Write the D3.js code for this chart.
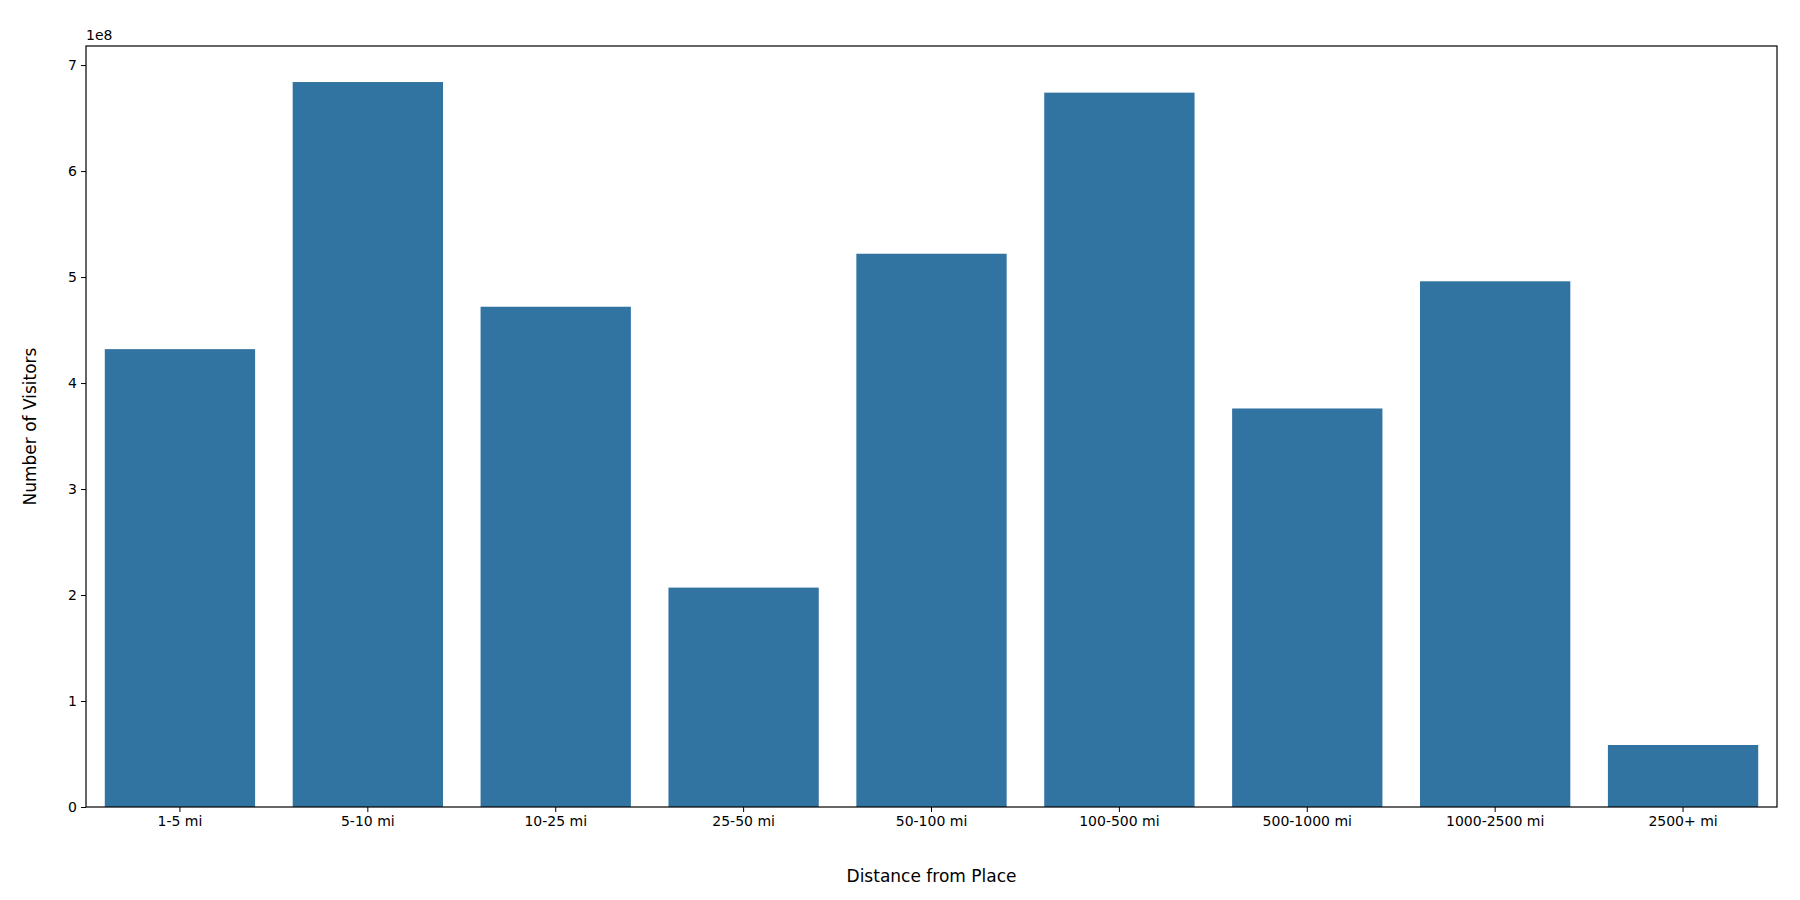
<!DOCTYPE html>
<html lang="en">
<head>
<meta charset="utf-8">
<script src="https://cdn.jsdelivr.net/npm/d3@7"></script>
<style>
  body { margin: 0; background: #fff; font-family: "DejaVu Sans", sans-serif; }
</style>
</head>
<body>
<svg id="chart" width="1800" height="900"></svg>
<script>
// distance buckets and visitor counts
var categories = ["1-5 mi", "5-10 mi", "10-25 mi", "25-50 mi", "50-100 mi",
                  "100-500 mi", "500-1000 mi", "1000-2500 mi", "2500+ mi"];
var visitors = [4.32e8, 6.84e8, 4.72e8, 2.07e8, 5.22e8, 6.74e8, 3.76e8, 4.96e8, 0.585e8];
var yTicks = [0, 1e8, 2e8, 3e8, 4e8, 5e8, 6e8, 7e8];

var m = {left: 86, right: 23, top: 46, bottom: 93};
var W = 1800, H = 900;
var svg = d3.select("#chart");
var g = svg.append("g").attr("transform", "translate(" + m.left + "," + m.top + ")");
var w = W - m.left - m.right, h = H - m.top - m.bottom;

var x = d3.scaleBand().domain(categories).range([0, w]).paddingInner(0.2).paddingOuter(0.1);
var y = d3.scaleLinear().domain([0, 7.18e8]).range([h, 0]);

g.selectAll("rect.bar").data(visitors).enter().append("rect")
  .attr("class", "bar")
  .attr("x", function(d, i) { return x(categories[i]); })
  .attr("width", x.bandwidth())
  .attr("y", function(d) { return y(d); })
  .attr("height", function(d) { return h - y(d); })
  .attr("fill", "#3274a1");

var xa = g.append("g").attr("transform", "translate(0," + h + ")")
  .call(d3.axisBottom(x).tickSize(5).tickPadding(4));
var ya = g.append("g")
  .call(d3.axisLeft(y).tickValues(yTicks).tickFormat(function(d) { return d / 1e8; }).tickSize(5).tickPadding(4));
[xa, ya].forEach(function(a) {
  a.selectAll("text").attr("font-size", 14).attr("fill", "#000").attr("font-family", "DejaVu Sans, sans-serif");
  a.select(".domain").remove();
  a.selectAll("line").attr("stroke", "#000");
});

g.append("rect").attr("width", w).attr("height", h)
  .attr("fill", "none").attr("stroke", "#000").attr("stroke-width", 1.2);

g.append("text").attr("x", 0).attr("y", -6).attr("font-size", 14).text("1e8");

svg.append("text").attr("x", m.left + w / 2).attr("y", H - 18)
  .attr("text-anchor", "middle").attr("font-size", 17).text("Distance from Place");
svg.append("text").attr("transform", "translate(36," + (m.top + h / 2) + ") rotate(-90)")
  .attr("text-anchor", "middle").attr("font-size", 17).text("Number of Visitors");
</script>
</body>
</html>
